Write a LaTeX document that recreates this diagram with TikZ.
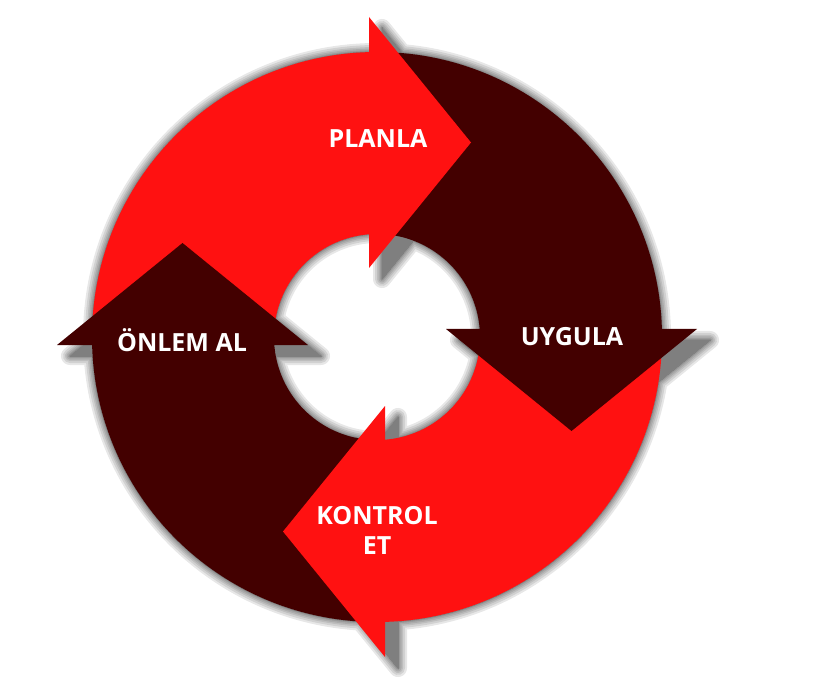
\documentclass[tikz,border=0pt]{standalone}
\usepackage{fontspec}
\setmainfont{Open Sans}
\usetikzlibrary{calc}
\definecolor{ringred}{HTML}{FF1111}
\definecolor{ringbrown}{HTML}{430000}
\begin{document}
\begin{tikzpicture}[x=1pt,y=-1pt,
  lbl/.style={text=white,font=\fontsize{25}{30}\selectfont\bfseries,align=center,inner sep=0pt},
]
\useasboundingbox (0,0) rectangle (836,695);
\coordinate (C) at (377,337);
\def\Ro{285}\def\Ri{103}
% shadow
\foreach \w in {18,14,10,7,4,2,0}{
  \begin{scope}[transparency group,opacity=0.095,shift={(13,11)}]
    \fill[black,draw=black,line width=\w pt,line join=round,even odd rule]
      (C) circle[radius=\Ro] (C) circle[radius=\Ri];
    \fill[black,draw=black,line width=\w pt,line join=round]
      (369,17) -- (471,142.5) -- (369,268) -- cycle
      (446,329) -- (697,329) -- (571.5,431) -- cycle
      (385,406) -- (283,531.5) -- (385,657) -- cycle
      (57,345) -- (182.5,243) -- (308,345) -- cycle;
  \end{scope}
}
% bodies
\fill[ringred] ($(C)+(180:\Ro)$) arc[start angle=180,end angle=270,radius=\Ro]
  -- ($(C)+(270:\Ri)$) arc[start angle=270,end angle=180,radius=\Ri] -- cycle;
\fill[ringbrown] ($(C)+(270:\Ro)$) arc[start angle=270,end angle=360,radius=\Ro]
  -- ($(C)+(0:\Ri)$) arc[start angle=360,end angle=270,radius=\Ri] -- cycle;
\fill[ringred] ($(C)+(0:\Ro)$) arc[start angle=0,end angle=90,radius=\Ro]
  -- ($(C)+(90:\Ri)$) arc[start angle=90,end angle=0,radius=\Ri] -- cycle;
\fill[ringbrown] ($(C)+(90:\Ro)$) arc[start angle=90,end angle=180,radius=\Ro]
  -- ($(C)+(180:\Ri)$) arc[start angle=180,end angle=90,radius=\Ri] -- cycle;
% heads
\fill[ringred] (369,17) -- (471,142.5) -- (369,268) -- cycle;
\fill[ringbrown] (446,329) -- (697,329) -- (571.5,431) -- cycle;
\fill[ringred] (385,406) -- (283,531.5) -- (385,657) -- cycle;
\fill[ringbrown] (57,345) -- (182.5,243) -- (308,345) -- cycle;
% labels
\node[lbl] (planla) at (378,139) {PLANLA};
\node[lbl] (uygula) at (572,337) {UYGULA};
\node[lbl] (kontrol) at (377,530) {KONTROL\\ET};
\node[lbl] (onlem) at (182,340) {ÖNLEM AL};
\end{tikzpicture}
\end{document}
